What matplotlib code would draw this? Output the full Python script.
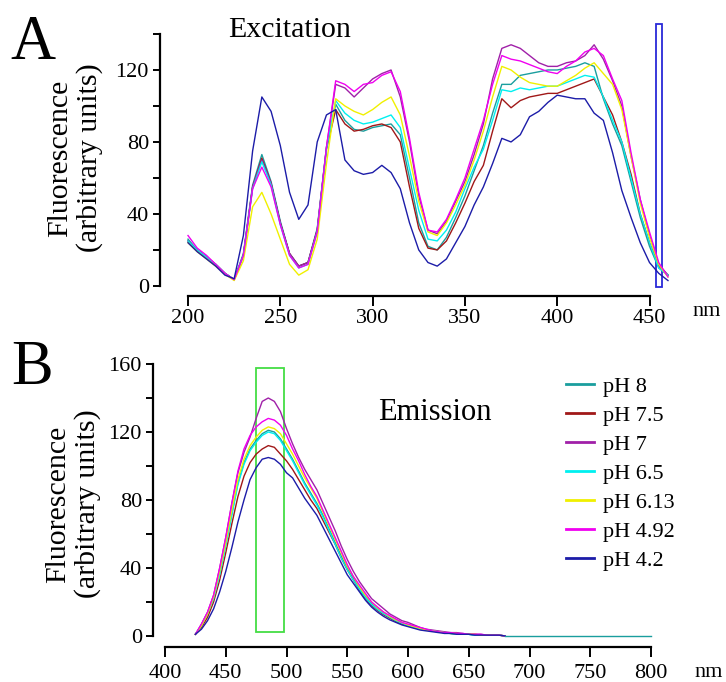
import matplotlib
matplotlib.use("Agg")
import matplotlib.pyplot as plt
from matplotlib.patches import Rectangle

plt.rcParams['font.family'] = ['Liberation Serif', 'DejaVu Serif']

W, H = 726, 682

# pH series and colours
labels = ["pH 8", "pH 7.5", "pH 7", "pH 6.5", "pH 6.13", "pH 4.92", "pH 4.2"]
colors = ["#1a9e9e", "#a01818", "#a020a8", "#00f0f0", "#f0f000", "#f000f0", "#1c1ca8"]

# Excitation spectra (A), read every 5 nm
ex_nm = list(range(200, 461, 5))
ex_ph8 = [26, 20, 16, 12, 7, 3.5, 18, 56, 73, 58, 36, 18, 11, 13, 32, 77, 101,
          92, 87, 86, 88, 89, 90, 84, 60, 35, 22, 20, 27, 38, 50, 64, 78, 96,
          112, 112, 117, 118, 119, 120, 120, 121, 122, 124, 122, 104, 90, 78,
          58, 38, 22, 10, 6]
ex_ph75 = [25, 20, 16, 12, 7, 3.5, 17, 55, 71, 57, 35, 18, 11, 13, 31, 76, 98,
           90, 86, 87, 89, 90, 88, 80, 55, 32, 21, 20, 25, 35, 46, 58, 67, 86,
           104, 99, 103, 105, 106, 107, 107, 109, 111, 113, 115, 105, 95, 80,
           62, 40, 24, 11, 6]
ex_ph7 = [25, 20, 16, 12, 7, 3.5, 17, 55, 70, 57, 35, 18, 11, 13, 31, 77, 112,
          110, 105, 110, 115, 118, 120, 105, 80, 50, 31, 29, 36, 47, 58, 73, 90,
          115, 132, 134, 132, 128, 124, 122, 122, 124, 125, 128, 134, 126, 114,
          100, 72, 48, 28, 12, 6]
ex_ph65 = [25, 20, 16, 12, 7, 3.5, 17, 54, 69, 56, 34, 17, 10, 12, 30, 76, 103,
           96, 92, 90, 91, 93, 95, 88, 65, 42, 26, 25, 31, 41, 54, 66, 76, 92,
           109, 108, 110, 109, 110, 111, 111, 113, 115, 117, 116, 105, 92, 80,
           60, 40, 24, 10, 6]
ex_ph613 = [24, 19, 15, 11, 6.5, 3, 14, 44, 52, 40, 26, 12, 6, 9, 26, 68, 104,
            100, 97, 95, 98, 102, 105, 95, 72, 47, 30, 28, 35, 45, 56, 70, 86,
            105, 122, 120, 116, 113, 112, 111, 111, 114, 117, 121, 124, 118,
            112, 98, 72, 46, 27, 12, 5]
ex_ph492 = [28, 21, 17, 12, 7, 3.5, 17, 54, 66, 55, 34, 17, 10, 12, 30, 77, 114,
            112, 108, 112, 113, 117, 119, 108, 82, 52, 31, 30, 37, 48, 60, 76,
            92, 112, 128, 126, 125, 123, 121, 119, 118, 122, 125, 130, 132, 128,
            115, 103, 74, 48, 30, 13, 5]
ex_ph42 = [24, 19, 15, 11, 6, 4, 28, 75, 105, 97, 78, 52, 37, 45, 80, 95, 98,
           70, 64, 62, 63, 67, 63, 54, 35, 20, 13, 11, 15, 24, 33, 45, 55, 68,
           82, 80, 84, 94, 97, 102, 106, 105, 104, 104, 96, 92, 74, 53, 38, 24,
           13, 7, 3]

# Emission spectra (B), read every 5 nm
em_nm = list(range(425, 681, 5))
em_ph8 = [1, 6, 13, 22, 37, 54, 72, 90, 102, 110, 115, 119, 121, 120, 116, 110,
          104, 97, 90, 84, 78, 71, 63, 55, 47, 40, 34, 28, 23, 19, 16, 13, 11,
          9, 7.5, 6, 5, 4, 3.5, 3, 2.5, 2, 1.5, 1, 1, 1, 0.5, 0.5, 0.5, 0.5,
          0.5, 0]
em_ph75 = [1, 5, 11, 20, 33, 49, 66, 82, 94, 102, 107, 110, 112, 111, 107, 103,
           98, 92, 86, 80, 75, 68, 61, 54, 46, 39, 33, 27, 22, 18, 15, 12.5,
           10.5, 8.5, 7, 6, 5, 4, 3.5, 3, 2.5, 2, 1.5, 1.5, 1, 1, 1, 0.5, 0.5,
           0.5, 0.5, 0]
em_ph7 = [1, 7, 14, 24, 40, 58, 78, 96, 108, 117, 128, 138, 140, 138, 132, 122,
          113, 105, 98, 92, 86, 78, 70, 62, 53, 45, 38, 32, 27, 22, 19, 16, 13,
          11, 9, 8, 6.5, 5, 4, 3.5, 3, 2.5, 2, 2, 1.5, 1, 1, 1, 0.5, 0.5, 0.5,
          0]
em_ph65 = [1, 6, 13, 22, 36, 53, 71, 89, 101, 109, 114, 118, 120, 119, 115,
           109, 103, 96, 89, 83, 77, 70, 62, 54, 46, 39, 33, 27.5, 22.5, 18.5,
           15.5, 13, 11, 9, 7.5, 6, 5, 4, 3.5, 3, 2.5, 2, 1.5, 1, 1, 1, 0.5,
           0.5, 0.5, 0.5, 0.5, 0]
em_ph613 = [1, 6, 13, 23, 38, 55, 74, 92, 104, 112, 117, 121, 123, 122, 119,
            113, 107, 100, 93, 87, 81, 73, 65, 57, 49, 41, 35, 29, 24, 20, 16.5,
            14, 11.5, 9.5, 8, 6.5, 5.5, 4.5, 3.5, 3, 2.5, 2, 1.5, 1.5, 1, 1, 1,
            0.5, 0.5, 0.5, 0.5, 0]
em_ph492 = [1, 7, 14, 24, 40, 58, 78, 97, 110, 118, 123, 126, 128, 127, 124,
            118, 110, 103, 95, 88, 82, 74, 66, 58, 50, 42, 35, 30, 25, 20, 17,
            14, 12, 10, 8, 7, 6, 5, 4, 3, 2.5, 2, 2, 1.5, 1.5, 1, 1, 1, 0.5,
            0.5, 0.5, 0]
em_ph42 = [1, 4, 9, 16, 26, 38, 52, 67, 80, 92, 99, 104, 105, 104, 101, 96, 93,
           87, 81, 76, 71, 64, 57, 50, 43, 36, 31, 26, 21, 17, 14, 11.5, 9.5,
           8, 6.5, 5.5, 4.5, 3.5, 3, 2.5, 2, 1.5, 1.5, 1, 1, 1, 0.5, 0.5, 0.5,
           0.5, 0.5, 0]
# pH 8 baseline continues to the end of the scan
em_tail_nm = [680, 800]
em_tail_ph8 = [0, 0]

ex_series = [ex_ph8, ex_ph75, ex_ph7, ex_ph65, ex_ph613, ex_ph492, ex_ph42]
em_series = [em_ph8, em_ph75, em_ph7, em_ph65, em_ph613, em_ph492, em_ph42]

# selected windows (nm, value)
ex_box = (453.5, -0.5, 456.6, 145.5)
em_box = (475.0, 2.5, 498.2, 157.5)

fig = plt.figure(figsize=(W / 100, H / 100), dpi=100)
axA = fig.add_axes([160 / W, 1 - 296 / H, 517.2 / W, 273 / H])
axB = fig.add_axes([153 / W, 1 - 647 / H, 510.2 / W, 288.1 / H])


def style(ax, xb, yb, xpad):
    for s in ("top", "right"):
        ax.spines[s].set_visible(False)
    for s in ("left", "bottom"):
        ax.spines[s].set_linewidth(1.6)
    ax.spines["bottom"].set_bounds(*xb)
    ax.spines["left"].set_bounds(*yb)
    ax.tick_params(which="both", direction="out", length=5, width=1.4,
                   labelsize=16, pad=3, colors="black")
    ax.tick_params(axis="x", which="both", length=7, pad=xpad)
    ax.patch.set_alpha(0)


for ys, c in zip(ex_series, colors):
    axA.plot(ex_nm, ys, color=c, lw=1.0)
axA.add_patch(Rectangle((ex_box[0], ex_box[1]), ex_box[2] - ex_box[0],
                        ex_box[3] - ex_box[1], fill=False,
                        edgecolor="#2a2ad8", lw=1.3, clip_on=False))
axA.set_xlim(184.83, 465)
axA.set_ylim(-5.6, 146.1)
axA.set_xticks(range(200, 451, 50))
axA.set_yticks([0, 40, 80, 120])
axA.set_yticks([20, 60, 100, 140], minor=True)
style(axA, (200, 450), (0, 140), 2)

lines = []
for ys, c, lab in zip(em_series, colors, labels):
    ln, = axB.plot(em_nm, ys, color=c, lw=1.0, label=lab)
    lines.append(ln)
axB.plot(em_tail_nm, em_tail_ph8, color=colors[0], lw=1.0)
axB.add_patch(Rectangle((em_box[0], em_box[1]), em_box[2] - em_box[0],
                        em_box[3] - em_box[1], fill=False,
                        edgecolor="#44dd44", lw=1.3, clip_on=False))
axB.set_xlim(390.12, 810)
axB.set_ylim(-6.47, 163)
axB.set_xticks(range(400, 801, 50))
axB.set_yticks([0, 40, 80, 120, 160])
axB.set_yticks([20, 60, 100, 140], minor=True)
style(axB, (400, 800), (0, 160), 5)

leg = fig.legend(handles=lines, loc="upper left",
                 bbox_to_anchor=(566 / W, 1 - 376 / H), frameon=False,
                 fontsize=16, handlelength=1.25, handletextpad=0.4,
                 labelspacing=0.38, borderpad=0, borderaxespad=0)
for h in leg.legend_handles:
    h.set_linewidth(2)


def ftext(x, y, s, **kw):
    fig.text(x / W, 1 - y / H, s, **kw)


ftext(33, 44, "A", fontsize=45, ha="center", va="center")
ftext(32, 369, "B", fontsize=45, ha="center", va="center")
ftext(290, 30, "Excitation", fontsize=21.5, ha="center", va="center")
ftext(435, 412, "Emission", fontsize=22, ha="center", va="center")
ftext(75, 158, "Fluorescence\n(arbitrary units)", fontsize=21.5,
      rotation=90, ha="center", va="center", linespacing=1.15)
ftext(73, 504, "Fluorescence\n(arbitrary units)", fontsize=21.5,
      rotation=90, ha="center", va="center", linespacing=1.15)
ftext(707, 316, "nm", fontsize=16, ha="center", va="baseline")
ftext(709, 677, "nm", fontsize=16, ha="center", va="baseline")

fig.savefig("out.png", dpi=100)
